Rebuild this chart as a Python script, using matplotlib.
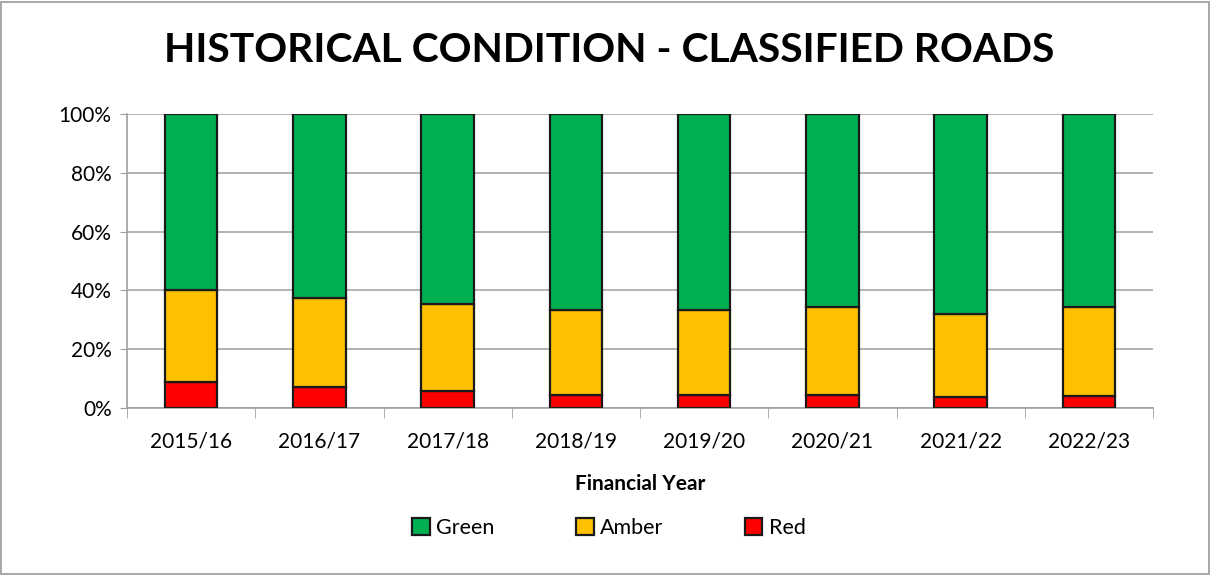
import matplotlib.pyplot as plt
from matplotlib.patches import Rectangle
import numpy as np

# Data (cumulative shares, in %)
years = ['2015/16', '2016/17', '2017/18', '2018/19', '2019/20', '2020/21', '2021/22', '2022/23']
red = [8.9, 7.0, 5.9, 4.5, 4.5, 4.5, 3.8, 4.2]
amber_top = [40.0, 37.5, 35.5, 33.4, 33.4, 34.2, 31.9, 34.2]
amber = [a - r for a, r in zip(amber_top, red)]
green = [100 - a for a in amber_top]

plt.rcParams['font.family'] = ['Lato', 'DejaVu Sans']

fig = plt.figure(figsize=(12.11, 5.75), dpi=100)
ax = fig.add_axes([0.1049, 0.2904, 0.8473, 0.5113])

x = np.arange(len(years))
w = 0.41
edge = dict(edgecolor='#1a1a1a', linewidth=1.6)
ax.bar(x, red, w, color='#FF0000', label='Red', zorder=3, **edge)
ax.bar(x, amber, w, bottom=red, color='#FFC000', label='Amber', zorder=3, **edge)
ax.bar(x, green, w, bottom=amber_top, color='#00B050', label='Green', zorder=3, **edge)

ax.set_xlim(-0.5, len(years) - 0.5)
ax.set_ylim(0, 100)
ax.set_yticks(range(0, 101, 20))
ax.set_yticklabels([f'{v}%' for v in range(0, 101, 20)], fontsize=15)
ax.set_xticks(x)
ax.set_xticklabels(years, fontsize=15)
ax.tick_params(axis='x', length=0, pad=17)
ax.tick_params(axis='y', length=5, color='#a0a0a0', pad=6)
ax.set_xticks(np.arange(-0.5, len(years) + 0.5, 1), minor=True)
ax.tick_params(axis='x', which='minor', length=7, color='#a0a0a0')

ax.grid(axis='y', color='#a6a6a6', linewidth=1.2, zorder=0)
for s in ['top', 'right']:
    ax.spines[s].set_visible(False)
for s in ['left', 'bottom']:
    ax.spines[s].set_color('#a0a0a0')
    ax.spines[s].set_linewidth(1.2)

ax.set_xlabel('Financial Year', fontsize=15, fontweight='bold', labelpad=16)

fig.text(0.503, 0.912, 'HISTORICAL CONDITION - CLASSIFIED ROADS',
         ha='center', va='center', fontsize=29.3, fontweight='bold')

handles, labels = ax.get_legend_handles_labels()
fig.legend(handles[::-1], labels[::-1], loc='center', bbox_to_anchor=(0.503, 0.082),
           ncol=3, frameon=False, fontsize=15.5, handlelength=0.8, handleheight=0.8,
           handletextpad=0.3, columnspacing=3.8)

fig.patches.append(Rectangle((0.001, 0.002), 0.997, 0.995, transform=fig.transFigure,
                             fill=False, edgecolor='#9a9a9a', linewidth=1.2))

fig.savefig('out.png', dpi=100)
